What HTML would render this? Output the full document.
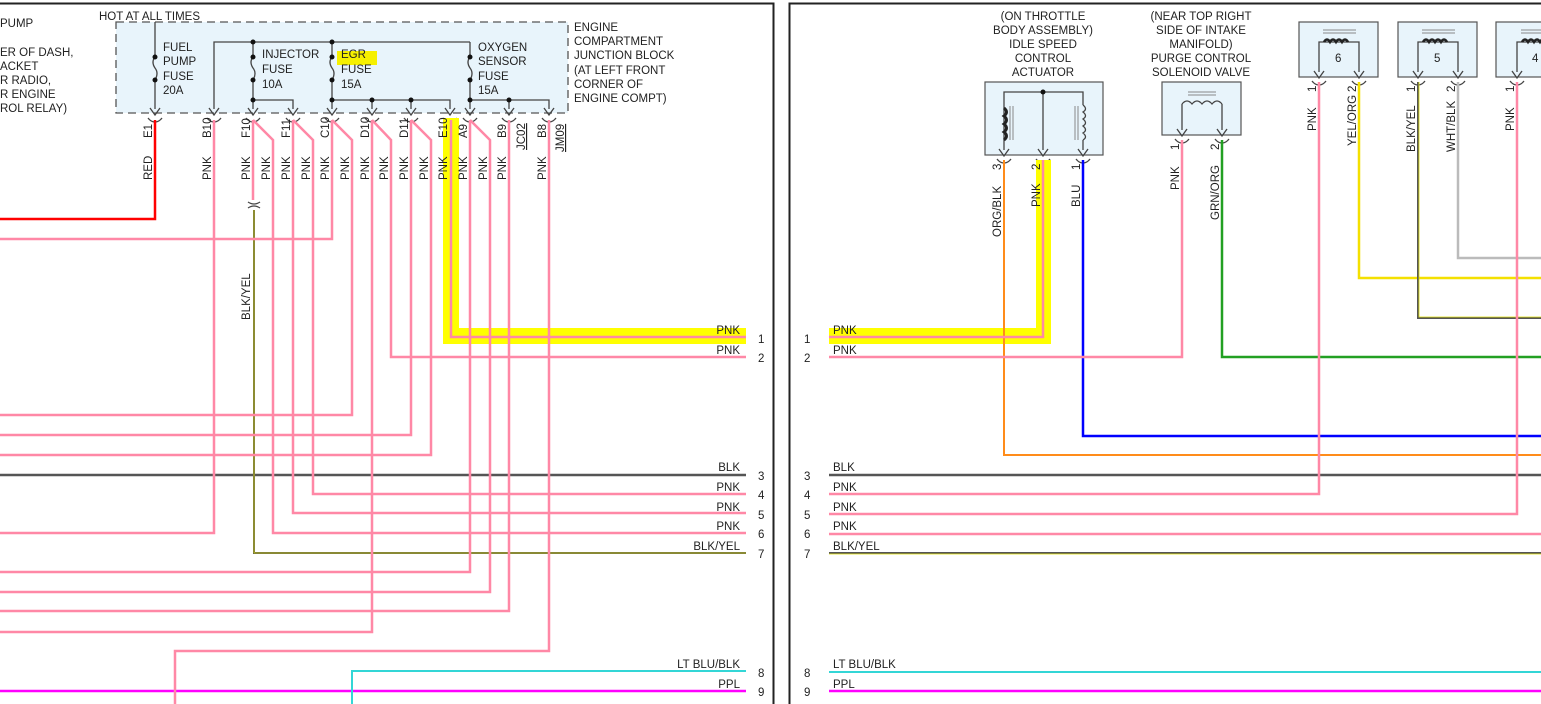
<!DOCTYPE html>
<html><head><meta charset="utf-8"><style>
html,body{margin:0;padding:0;background:#fff;width:1541px;height:704px;overflow:hidden}
svg{display:block}
text{font-family:"Liberation Sans",sans-serif;font-size:11.5px;fill:#222}
.pk{stroke:#ff88a6;stroke-width:2.5;fill:none}
.bx{fill:#e8f4fb;stroke:#555;stroke-width:1.2}
.ln{stroke:#444;stroke-width:1.3;fill:none}
</style></head><body>
<svg width="1541" height="704" viewBox="0 0 1541 704">
<defs>
<g id="pin"><path d="M-5,-8 L0,-1 L5,-8" class="ln"/><path d="M-7,2 Q-4,6 0,6 Q4,6 7,2" class="ln"/></g>
</defs>
<!-- panel borders -->
<path d="M0,3.5 H773.5 V704" stroke="#222" stroke-width="2" fill="none"/>
<path d="M789.5,704 V3.5 H1541" stroke="#222" stroke-width="2" fill="none"/>

<!-- top-left text -->
<text x="0" y="27">PUMP</text>
<text x="0" y="56">ER OF DASH,</text>
<text x="0" y="70">ACKET</text>
<text x="0" y="84">R RADIO,</text>
<text x="0" y="98">R ENGINE</text>
<text x="0" y="112">ROL RELAY)</text>
<text x="99" y="20">HOT AT ALL TIMES</text>

<!-- junction block -->
<rect x="116" y="22" width="452" height="91" fill="#e8f4fb" stroke="#555" stroke-width="1.3" stroke-dasharray="8,5"/>
<text x="574" y="31">ENGINE</text>
<text x="574" y="45">COMPARTMENT</text>
<text x="574" y="59">JUNCTION BLOCK</text>
<text x="574" y="74">(AT LEFT FRONT</text>
<text x="574" y="88">CORNER OF</text>
<text x="574" y="102">ENGINE COMPT)</text>
<g class="ln">
<path d="M155,22 V57 M155,80 V109"/>
<path d="M155,57 q-4,5 0,11 q4,5 0,12"/>
<path d="M214,109 V42 H470"/>
<path d="M253,42 V57 M253,80 V100 H293 V109 M253,100 V109"/>
<path d="M253,57 q-4,5 0,11 q4,5 0,12"/>
<path d="M332,42 V57 M332,80 V100 H450 V109 M332,100 V109 M372,100 V109 M411,100 V109"/>
<path d="M332,57 q-4,5 0,11 q4,5 0,12"/>
<path d="M470,42 V57 M470,80 V100 H549 V109 M470,100 V109 M509,100 V109"/>
<path d="M470,57 q-4,5 0,11 q4,5 0,12"/>
</g>
<g fill="#111">
<circle cx="155" cy="57" r="2.5"/><circle cx="155" cy="80" r="2.5"/>
<circle cx="253" cy="42" r="2.5"/><circle cx="253" cy="57" r="2.5"/><circle cx="253" cy="80" r="2.5"/><circle cx="253" cy="100" r="2.5"/>
<circle cx="332" cy="42" r="2.5"/><circle cx="332" cy="57" r="2.5"/><circle cx="332" cy="80" r="2.5"/><circle cx="332" cy="100" r="2.5"/>
<circle cx="372" cy="100" r="2.5"/><circle cx="411" cy="100" r="2.5"/>
<circle cx="470" cy="57" r="2.5"/><circle cx="470" cy="80" r="2.5"/><circle cx="470" cy="100" r="2.5"/><circle cx="509" cy="100" r="2.5"/>
</g>
<rect x="337" y="51" width="40" height="14" fill="#f6f000"/>
<text x="163" y="51">FUEL</text><text x="163" y="65">PUMP</text><text x="163" y="80">FUSE</text><text x="163" y="94">20A</text>
<text x="262" y="58">INJECTOR</text><text x="262" y="73">FUSE</text><text x="262" y="88">10A</text>
<text x="341" y="58">EGR</text><text x="341" y="73">FUSE</text><text x="341" y="88">15A</text>
<text x="478" y="51">OXYGEN</text><text x="478" y="65">SENSOR</text><text x="478" y="80">FUSE</text><text x="478" y="94">15A</text>
<g>
<use href="#pin" x="155" y="116"/><use href="#pin" x="214" y="116"/><use href="#pin" x="253" y="116"/><use href="#pin" x="293" y="116"/>
<use href="#pin" x="332" y="116"/><use href="#pin" x="372" y="116"/><use href="#pin" x="411" y="116"/><use href="#pin" x="450" y="116"/>
<use href="#pin" x="470" y="116"/><use href="#pin" x="509" y="116"/><use href="#pin" x="549" y="116"/>
</g>

<!-- left panel wires -->
<rect x="443" y="118" width="16" height="226" fill="#ffff00"/>
<rect x="443" y="328" width="303" height="16" fill="#ffff00"/>
<path d="M155,120 V219 H0" stroke="#ff0000" stroke-width="2.5" fill="none"/>
<path d="M0,475 H746" stroke="#555" stroke-width="2.5"/>
<path d="M0,691 H746" stroke="#ff00ff" stroke-width="2.5"/>
<path d="M746,671 H352 V704" stroke="#33d6d6" stroke-width="2" fill="none"/>
<path d="M254,210 V553 H746" stroke="#555" stroke-width="2" fill="none"/>
<path d="M254,210 V553 H746" stroke="#e0e000" stroke-width="0.8" fill="none"/>
<g class="pk">
<path d="M214,120 V533 H0"/>
<path d="M253,120 V200"/>
<path d="M253,120 L273,140 V533 H746"/>
<path d="M293,120 V513 H746"/>
<path d="M293,120 L313,140 V494 H746"/>
<path d="M332,120 V239 H0"/>
<path d="M332,120 L352,140 V415 H0"/>
<path d="M372,120 V632 H0"/>
<path d="M372,120 L391,140 V357 H746"/>
<path d="M411,120 V435 H0"/>
<path d="M411,120 L431,140 V455 H0"/>
<path d="M451,120 V337 H746"/>
<path d="M470,120 V572 H0"/>
<path d="M470,120 L490,140 V592 H0"/>
<path d="M509,120 V611 H0"/>
<path d="M549,120 V651 H175 V704"/>
</g>
<path d="M248,202 q6,4 12,0 M248,208 q6,-4 12,0" class="ln"/>
<!-- left labels -->
<g>
<text transform="translate(152,138) rotate(-90)">E1</text>
<text transform="translate(152,180) rotate(-90)">RED</text>
<text transform="translate(211,138) rotate(-90)">B10</text>
<text transform="translate(250,138) rotate(-90)">F10</text>
<text transform="translate(290,138) rotate(-90)">F11</text>
<text transform="translate(329,138) rotate(-90)">C10</text>
<text transform="translate(369,138) rotate(-90)">D10</text>
<text transform="translate(408,138) rotate(-90)">D11</text>
<text transform="translate(447,138) rotate(-90)">E10</text>
<text transform="translate(467,138) rotate(-90)">A9</text>
<text transform="translate(506,138) rotate(-90)">B9</text>
<text transform="translate(546,138) rotate(-90)">B8</text>
<text transform="translate(525,150) rotate(-90)" text-decoration="underline">JC02</text>
<text transform="translate(564,152) rotate(-90)" text-decoration="underline">JM09</text>
<text transform="translate(211,180) rotate(-90)">PNK</text>
<text transform="translate(250,180) rotate(-90)">PNK</text>
<text transform="translate(270,180) rotate(-90)">PNK</text>
<text transform="translate(290,180) rotate(-90)">PNK</text>
<text transform="translate(310,180) rotate(-90)">PNK</text>
<text transform="translate(329,180) rotate(-90)">PNK</text>
<text transform="translate(349,180) rotate(-90)">PNK</text>
<text transform="translate(369,180) rotate(-90)">PNK</text>
<text transform="translate(388,180) rotate(-90)">PNK</text>
<text transform="translate(408,180) rotate(-90)">PNK</text>
<text transform="translate(428,180) rotate(-90)">PNK</text>
<text transform="translate(447,180) rotate(-90)">PNK</text>
<text transform="translate(467,180) rotate(-90)">PNK</text>
<text transform="translate(487,180) rotate(-90)">PNK</text>
<text transform="translate(506,180) rotate(-90)">PNK</text>
<text transform="translate(546,180) rotate(-90)">PNK</text>
<text transform="translate(250,320) rotate(-90)">BLK/YEL</text>
</g>
<g text-anchor="end">
<text x="740" y="334">PNK</text><text x="740" y="354">PNK</text><text x="740" y="471">BLK</text>
<text x="740" y="491">PNK</text><text x="740" y="511">PNK</text><text x="740" y="530">PNK</text>
<text x="740" y="550">BLK/YEL</text><text x="740" y="668">LT BLU/BLK</text><text x="740" y="688">PPL</text>
</g>
<g><text x="758" y="343">1</text><text x="758" y="362">2</text><text x="758" y="480">3</text><text x="758" y="499">4</text>
<text x="758" y="519">5</text><text x="758" y="538">6</text><text x="758" y="558">7</text><text x="758" y="677">8</text><text x="758" y="696">9</text></g>

<!-- right panel -->
<g text-anchor="middle">
<text x="1043" y="20">(ON THROTTLE</text><text x="1043" y="34">BODY ASSEMBLY)</text><text x="1043" y="48">IDLE SPEED</text>
<text x="1043" y="62">CONTROL</text><text x="1043" y="76">ACTUATOR</text>
<text x="1201" y="20">(NEAR TOP RIGHT</text><text x="1201" y="34">SIDE OF INTAKE</text><text x="1201" y="48">MANIFOLD)</text>
<text x="1201" y="62">PURGE CONTROL</text><text x="1201" y="76">SOLENOID VALVE</text>
</g>
<rect x="985" y="82" width="118" height="73" class="bx"/>
<path d="M1004,150 V92 H1083 V105 M1043,92 V150 M1083,140 V150" class="ln"/>
<circle cx="1043" cy="92" r="2.5" fill="#111"/>
<path d="M1004,108 q5,4 0,8 q5,4 0,8 q5,4 0,8 q5,4 0,8" stroke="#222" stroke-width="3" fill="none"/>
<path d="M1010,106 V140 M1013,106 V140 M1075,106 V140 M1078,106 V140" stroke="#888" stroke-width="1"/>
<path d="M1083,105 q5,4 0,7 q5,4 0,7 q5,4 0,7 q5,4 0,7 q5,4 0,7" class="ln"/>
<rect x="1162" y="82" width="79" height="53" class="bx"/>
<path d="M1182,130 V104 M1222,130 V104" class="ln"/>
<path d="M1182,104 q5,-6 10,0 q5,-6 10,0 q5,-6 10,0 q5,-6 10,0" class="ln"/>
<path d="M1188,92 H1216 M1188,95 H1216" stroke="#888" stroke-width="1"/>
<use href="#pin" x="1004" y="157"/><use href="#pin" x="1043" y="157"/><use href="#pin" x="1083" y="157"/>
<use href="#pin" x="1182" y="137"/><use href="#pin" x="1222" y="137"/>

<!-- relays -->
<g>
<rect x="1299" y="22" width="79" height="55" class="bx"/>
<rect x="1398" y="22" width="79" height="55" class="bx"/>
<rect x="1496" y="22" width="79" height="55" class="bx"/>
<path d="M1319,72 V42 H1359 V72 M1418,72 V42 H1458 V72 M1517,72 V42 H1557 V72" class="ln"/>
<path d="M1324,42 q3,-5 6,0 q3,-5 6,0 q3,-5 6,0 q3,-5 6,0 M1423,42 q3,-5 6,0 q3,-5 6,0 q3,-5 6,0 q3,-5 6,0 M1522,42 q3,-5 6,0 q3,-5 6,0 q3,-5 6,0 q3,-5 6,0" stroke="#222" stroke-width="2.5" fill="none"/>
<path d="M1323,30 H1356 M1323,33 H1356 M1422,30 H1455 M1422,33 H1455 M1521,30 H1554 M1521,33 H1554" stroke="#888" stroke-width="1"/>
<text x="1335" y="62">6</text><text x="1434" y="62">5</text><text x="1532" y="62">4</text>
<use href="#pin" x="1319" y="79"/><use href="#pin" x="1359" y="79"/><use href="#pin" x="1418" y="79"/><use href="#pin" x="1458" y="79"/><use href="#pin" x="1517" y="79"/>
</g>

<!-- right wires -->
<rect x="1036" y="160" width="15" height="184" fill="#ffff00"/>
<rect x="829" y="328" width="222" height="16" fill="#ffff00"/>
<path d="M829,475 H1541" stroke="#555" stroke-width="2.5"/>
<path d="M829,691 H1541" stroke="#ff00ff" stroke-width="2.5"/>
<path d="M829,672 H1541" stroke="#33d6d6" stroke-width="2"/>
<path d="M829,553 H1541" stroke="#555" stroke-width="2"/>
<path d="M829,554 H1541" stroke="#e0e000" stroke-width="0.8"/>
<path d="M1004,160 V455 H1541" stroke="#ff8c1a" stroke-width="2" fill="none"/>
<path d="M1083,160 V436 H1541" stroke="#0000ff" stroke-width="2.5" fill="none"/>
<path d="M1222,140 V357 H1541" stroke="#22a022" stroke-width="2.5" fill="none"/>
<path d="M1359,82 V278 H1541" stroke="#f4e000" stroke-width="2.5" fill="none"/>
<path d="M1418,82 V318 H1541" stroke="#555" stroke-width="2" fill="none"/>
<path d="M1419,82 V317 H1541" stroke="#e0e000" stroke-width="0.8" fill="none"/>
<path d="M1458,82 V258 H1541" stroke="#bbb" stroke-width="2.5" fill="none"/>
<g class="pk">
<path d="M1043,160 V337 H829"/>
<path d="M1182,140 V357 H829"/>
<path d="M1319,82 V494 H829"/>
<path d="M1517,82 V514 H829"/>
<path d="M829,534 H1541"/>
</g>
<g>
<text x="833" y="334">PNK</text><text x="833" y="354">PNK</text><text x="833" y="471">BLK</text>
<text x="833" y="491">PNK</text><text x="833" y="511">PNK</text><text x="833" y="530">PNK</text>
<text x="833" y="550">BLK/YEL</text><text x="833" y="668">LT BLU/BLK</text><text x="833" y="688">PPL</text>
<text x="804" y="343">1</text><text x="804" y="362">2</text><text x="804" y="480">3</text><text x="804" y="499">4</text>
<text x="804" y="519">5</text><text x="804" y="538">6</text><text x="804" y="558">7</text><text x="804" y="677">8</text><text x="804" y="696">9</text>
</g>
<g>
<text transform="translate(1001,170) rotate(-90)">3</text>
<text transform="translate(1001,237) rotate(-90)">ORG/BLK</text>
<text transform="translate(1040,170) rotate(-90)">2</text>
<text transform="translate(1040,207) rotate(-90)">PNK</text>
<text transform="translate(1080,170) rotate(-90)">1</text>
<text transform="translate(1080,207) rotate(-90)">BLU</text>
<text transform="translate(1179,150) rotate(-90)">1</text>
<text transform="translate(1179,190) rotate(-90)">PNK</text>
<text transform="translate(1219,150) rotate(-90)">2</text>
<text transform="translate(1219,220) rotate(-90)">GRN/ORG</text>
<text transform="translate(1316,92) rotate(-90)">1</text>
<text transform="translate(1316,131) rotate(-90)">PNK</text>
<text transform="translate(1356,92) rotate(-90)">2</text>
<text transform="translate(1356,146) rotate(-90)">YEL/ORG</text>
<text transform="translate(1415,92) rotate(-90)">1</text>
<text transform="translate(1415,152) rotate(-90)">BLK/YEL</text>
<text transform="translate(1455,92) rotate(-90)">2</text>
<text transform="translate(1455,152) rotate(-90)">WHT/BLK</text>
<text transform="translate(1514,92) rotate(-90)">1</text>
<text transform="translate(1514,131) rotate(-90)">PNK</text>
</g>
</svg>
</body></html>
